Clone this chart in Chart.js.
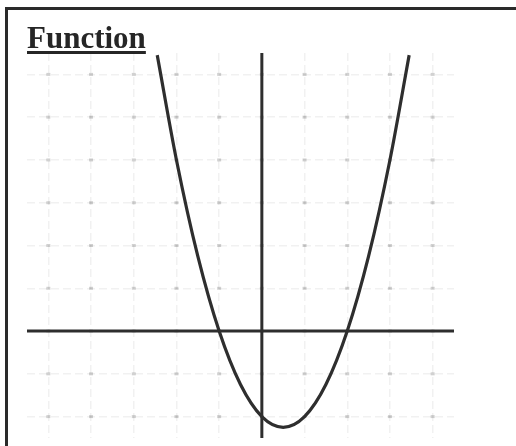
<!DOCTYPE html>
<html lang="en">
<head>
<meta charset="UTF-8" />
<title>Function</title>
<script src="https://cdn.jsdelivr.net/npm/chart.js"></script>
<style>
  html, body { margin: 0; padding: 0; background: #fff; }
  #wrap { position: relative; width: 516px; height: 446px; overflow: hidden; }
  #frame {
    position: absolute; left: 5px; top: 7px; width: 530px; height: 460px;
    border-left: 3px solid #2a2a2a; border-top: 3px solid #2a2a2a;
  }
  #title {
    position: absolute; left: 27px; top: 22px; margin: 0;
    font: bold 31px "Liberation Serif", "Times New Roman", serif;
    line-height: 1; color: #262626;
    text-decoration: underline; text-decoration-thickness: 3px; text-underline-offset: 3px;
  }
  #chartFn { position: absolute; left: 0; top: 0; }
</style>
</head>
<body>
<div id="wrap">
  <div id="frame"></div>
  <canvas id="chartFn" width="516" height="446"></canvas>
  <h2 id="title">Function</h2>
</div>

<script>
// window of the plot
const xMin = -5.5, xMax = 4.5;
const yMin = -2.5, yMax = 6.5;

// grid line positions
const xGrid = [-5, -4, -3, -2, -1, 0, 1, 2, 3, 4];
const yGrid = [-2, -1, 0, 1, 2, 3, 4, 5, 6];

// points along the curve
const curveX = [-2.45, -2, -1.5, -1, -0.5, 0, 0.5, 1, 1.5, 2, 2.5, 3, 3.45];
const curveY = [6.45, 4, 1.75, 0, -1.25, -2, -2.25, -2, -1.25, 0, 1.75, 4, 6.45];

// the two axes
const xAxisX = [-5.5, 4.5];
const xAxisY = [0, 0];
const yAxisX = [0, 0];
const yAxisY = [6.5, -2.5];

const ink = '#2e2e2e';

function pts(xs, ys) {
  return xs.map((x, i) => ({ x: x, y: ys[i] }));
}

// small dots where the grid lines cross
const gridMarks = {
  id: 'gridMarks',
  beforeDatasetsDraw(chart) {
    const { ctx, scales: { x, y } } = chart;
    ctx.save();
    ctx.fillStyle = 'rgba(0,0,0,0.18)';
    xGrid.forEach(i => {
      yGrid.forEach(j => {
        const px = x.getPixelForValue(i), py = y.getPixelForValue(j);
        ctx.fillRect(px - 2, py - 1.5, 4, 3);
      });
    });
    ctx.restore();
  }
};

new Chart(document.getElementById('chartFn').getContext('2d'), {
  type: 'scatter',
  data: {
    datasets: [
      { data: pts(xAxisX, xAxisY), showLine: true, borderColor: ink, borderWidth: 3, pointRadius: 0 },
      { data: pts(yAxisX, yAxisY), showLine: true, borderColor: ink, borderWidth: 3, pointRadius: 0 },
      {
        data: pts(curveX, curveY), showLine: true, borderColor: ink, borderWidth: 3.2,
        pointRadius: 0, cubicInterpolationMode: 'monotone'
      }
    ]
  },
  options: {
    responsive: false,
    animation: false,
    layout: { padding: { left: 27, top: 53, right: 62, bottom: 8 } },
    plugins: { legend: { display: false }, tooltip: { enabled: false } },
    scales: {
      x: {
        min: xMin, max: xMax,
        afterBuildTicks: axis => { axis.ticks = xGrid.map(v => ({ value: v })); },
        ticks: { display: false },
        grid: { color: 'rgba(0,0,0,0.055)', lineWidth: 1.5, drawTicks: false },
        border: { display: false, dash: [8, 4] }
      },
      y: {
        min: yMin, max: yMax,
        afterBuildTicks: axis => { axis.ticks = yGrid.map(v => ({ value: v })); },
        ticks: { display: false },
        grid: { color: 'rgba(0,0,0,0.055)', lineWidth: 1.5, drawTicks: false },
        border: { display: false, dash: [8, 4] }
      }
    }
  },
  plugins: [gridMarks]
});
</script>
</body>
</html>
